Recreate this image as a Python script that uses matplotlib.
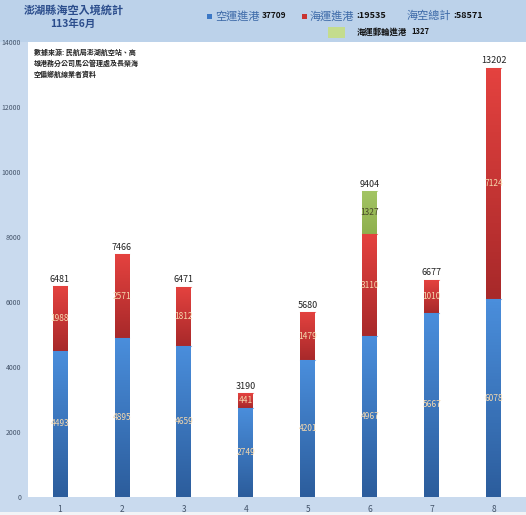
import numpy as np
import matplotlib
matplotlib.use("Agg")
import matplotlib.pyplot as plt
from matplotlib.colors import LinearSegmentedColormap
from matplotlib.patches import Rectangle

plt.rcParams['font.family'] = ['Noto Sans CJK TC', 'DejaVu Sans']

# data
months = [1, 2, 3, 4, 5, 6, 7, 8]
air = [4493, 4895, 4659, 2749, 4201, 4967, 5667, 6078]
sea = [1988, 2571, 1812, 441, 1479, 3110, 1010, 7124]
cruise = [0, 0, 0, 0, 0, 1327, 0, 0]
totals = [a + s + c for a, s, c in zip(air, sea, cruise)]

title = '澎湖縣海空入境統計'
subtitle = '113年6月'
source_note = '數據來源: 民航局澎湖航空站、高\n雄港務分公司馬公管理處及長榮海\n空偏鄉航線業者資料'

W, H = 526, 515
fig = plt.figure(figsize=(W / 100, H / 100), dpi=100)
fig.patch.set_facecolor('#c9daee')

# header band and bottom strip
fig.add_artist(Rectangle((0, 1 - 42 / H), 1, 42 / H, transform=fig.transFigure,
                         facecolor='#bcd2ea', edgecolor='none', zorder=0))
fig.add_artist(Rectangle((0, 0), 1, 3 / H, transform=fig.transFigure,
                         facecolor='#f2f4f7', edgecolor='none', zorder=0))

ax = fig.add_axes([28 / W, 18 / H, 498 / W, 455 / H])
ax.set_facecolor('white')
for sp in ax.spines.values():
    sp.set_visible(False)

x = np.array(months)
width = 0.24


def shaded(bars, c_top, c_bot):
    cmap = LinearSegmentedColormap.from_list('g', [c_bot, c_top])
    grad = np.linspace(0, 1, 64).reshape(-1, 1)
    for p in bars:
        if p.get_height() <= 0:
            continue
        x0, y0 = p.get_x(), p.get_y()
        im = ax.imshow(grad, cmap=cmap, aspect='auto', origin='lower',
                       extent=[x0, x0 + p.get_width(), y0, y0 + p.get_height()],
                       zorder=2)
        im.set_clip_path(p)
        p.set_facecolor('none')
        ax.plot([x0, x0 + p.get_width()], [y0 + p.get_height()] * 2,
                color=c_top, lw=0.8, alpha=0.6, zorder=3)


b1 = ax.bar(x, air, width, color='#3b78c6', linewidth=0, zorder=2)
b2 = ax.bar(x, sea, width, bottom=air, color='#c93431', linewidth=0, zorder=2)
bottom3 = [a + s for a, s in zip(air, sea)]
b3 = ax.bar(x, cruise, width, bottom=bottom3, color='#9bbb59', linewidth=0, zorder=2)

shaded(b1, '#4a8edc', '#2c5d9c')
shaded(b2, '#e4423f', '#a8292a')
shaded(b3, '#a3c564', '#8fb04e')

lbl = '#f6d9ae'
for xi, a, s, c, t in zip(x, air, sea, cruise, totals):
    ax.text(xi, a / 2, str(a), ha='center', va='center', fontsize=6,
            color=lbl, zorder=5)
    ax.text(xi, a + s / 2, str(s), ha='center', va='center', fontsize=6,
            color=lbl, zorder=5)
    if c:
        ax.text(xi, a + s + c / 2, str(c), ha='center', va='center',
                fontsize=6, color='#4a4a2a', zorder=5)
    ax.annotate(str(t), (xi, t), xytext=(0, 2), textcoords='offset points',
                ha='center', va='bottom', fontsize=6.5, color='#222222', zorder=5)

ax.set_xlim(0.484, 8.52)
ax.set_ylim(0, 14000)
ax.set_yticks(range(0, 14001, 2000))
ax.set_xticks(x)
ax.tick_params(axis='y', length=0, pad=5, labelsize=5, labelcolor='#44546a')
ax.tick_params(axis='x', length=0, pad=6, labelsize=6, labelcolor='#44546a')

ax.text(0.012, 0.985, source_note, transform=ax.transAxes, ha='left', va='top',
        fontsize=5, color='#222222', linespacing=1.5, fontweight='bold')


def fx(px):
    return px / W


def fy(py):
    return 1 - py / H


fig.text(fx(74), fy(10), title, ha='center', va='center', fontsize=8,
         fontweight='bold', color='#2b4d8c')
fig.text(fx(73), fy(24), subtitle, ha='center', va='center', fontsize=7.5,
         fontweight='bold', color='#2b4d8c')

# legend row
fig.add_artist(Rectangle((fx(207), fy(19)), 5 / W, 5 / H, transform=fig.transFigure,
                         facecolor='#3b78c6', edgecolor='none'))
fig.text(fx(215), fy(16), '空運進港', ha='left', va='center', fontsize=8, color='#3d6aa8')
fig.text(fx(262), fy(16), '37709', ha='left', va='center', fontsize=6,
         fontweight='bold', color='#111111')
fig.add_artist(Rectangle((fx(302), fy(19)), 5 / W, 5 / H, transform=fig.transFigure,
                         facecolor='#c93431', edgecolor='none'))
fig.text(fx(310), fy(16), '海運進港', ha='left', va='center', fontsize=8, color='#3d6aa8')
fig.text(fx(356), fy(16), ':19535', ha='left', va='center', fontsize=6.5,
         fontweight='bold', color='#111111')
fig.text(fx(407), fy(16), '海空總計', ha='left', va='center', fontsize=8, color='#3d6aa8')
fig.text(fx(453), fy(16), ':58571', ha='left', va='center', fontsize=6.5,
         fontweight='bold', color='#111111')
fig.add_artist(Rectangle((fx(328), fy(38)), 17 / W, 11 / H, transform=fig.transFigure,
                         facecolor='#c4dc8e', edgecolor='none'))
fig.text(fx(357), fy(32), '海運郵輪進港', ha='left', va='center', fontsize=6,
         fontweight='bold', color='#111111')
fig.text(fx(411), fy(32), '1327', ha='left', va='center', fontsize=5.5,
         fontweight='bold', color='#111111')

fig.savefig('out.png', dpi=100, facecolor=fig.get_facecolor())
